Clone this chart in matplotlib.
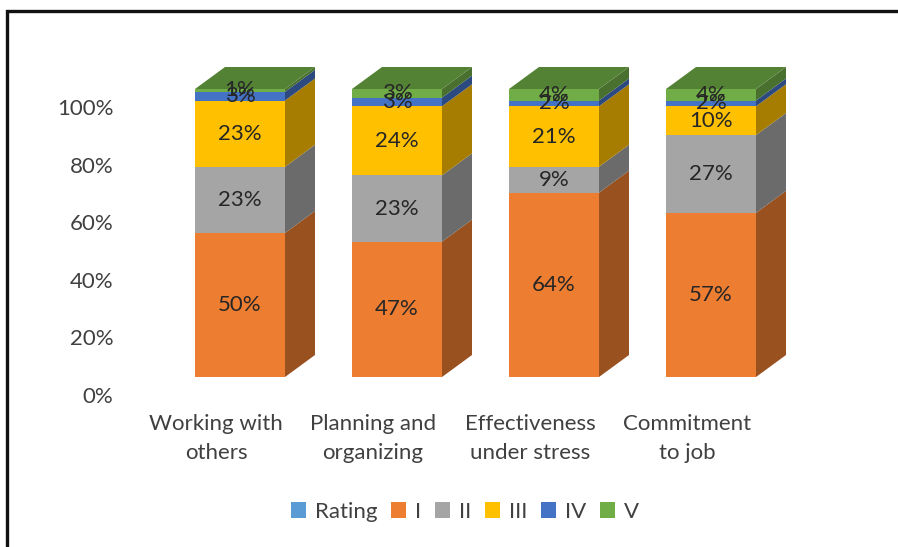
import matplotlib
matplotlib.use("Agg")
import matplotlib.pyplot as plt
from matplotlib.patches import Polygon, Rectangle, Patch
import numpy as np

# ---------------- data ----------------
categories = ["Working with\nothers", "Planning and\norganizing",
              "Effectiveness\nunder stress", "Commitment\nto job"]
series_names = ["Rating", "I", "II", "III", "IV", "V"]
s_I = [50, 47, 64, 57]
s_II = [23, 23, 9, 27]
s_III = [23, 24, 21, 10]
s_IV = [3, 3, 2, 2]
s_V = [1, 3, 4, 4]
yticks = [0, 20, 40, 60, 80, 100]
ytick_labels = ["0%", "20%", "40%", "60%", "80%", "100%"]

colors = {"Rating": "#5B9BD5", "I": "#ED7D31", "II": "#A5A5A5",
          "III": "#FFC000", "IV": "#4472C4", "V": "#70AD47"}

FONT = "Lato"
FS = 16
TXT = "#404040"

# ---------------- figure ----------------
W, H, DPI = 898, 547, 100
fig = plt.figure(figsize=(W / DPI, H / DPI), dpi=DPI)
fig.patch.set_facecolor("white")

# axes placement in pixels
ax_l, ax_r, ax_t, ax_b = 130, 830, 50, 400
ax = fig.add_axes([ax_l / W, (H - ax_b) / H, (ax_r - ax_l) / W, (ax_b - ax_t) / H])
px_per_x = 157.0
x0_pix = 216.0
px_per_y = 2.88
y0_pix = 395.0
ax.set_xlim((ax_l - x0_pix) / px_per_x, (ax_r - x0_pix) / px_per_x)
ax.set_ylim((y0_pix - ax_b) / px_per_y, (y0_pix - ax_t) / px_per_y)
for sp in ax.spines.values():
    sp.set_visible(False)
ax.set_facecolor("none")

# 3D geometry (data units)
shift = 24 / px_per_x
width = 90 / px_per_x
dx = 30 / px_per_x
dy = 22 / px_per_y
base = 18 / px_per_y


def shade(c, f):
    r, g, b = matplotlib.colors.to_rgb(c)
    return (r * f, g * f, b * f)


xs = np.arange(len(categories))
stack = [("I", s_I), ("II", s_II), ("III", s_III), ("IV", s_IV), ("V", s_V)]
cum = np.zeros(len(categories)) + base
for name, vals in stack:
    vals = np.array(vals, dtype=float)
    c = colors[name]
    ax.bar(xs + shift, vals, width=width, bottom=cum, color=c, linewidth=0, zorder=3)
    for i in range(len(xs)):
        xr = xs[i] + shift + width / 2
        yb, yt = cum[i], cum[i] + vals[i]
        ax.add_patch(Polygon([(xr, yb), (xr + dx, yb + dy), (xr + dx, yt + dy), (xr, yt)],
                             closed=True, facecolor=shade(c, 0.65), edgecolor="none", zorder=2))
        ax.text(xs[i] + shift, (yb + yt) / 2, f"{int(vals[i])}%", ha="center", va="center",
                fontsize=FS, family=FONT, color="#262626", zorder=5)
    cum = cum + vals

# top faces
topc = colors["V"]
for i in range(len(xs)):
    xl = xs[i] + shift - width / 2
    xr = xs[i] + shift + width / 2
    yt = cum[i]
    ax.add_patch(Polygon([(xl, yt), (xl + dx, yt + dy), (xr + dx, yt + dy), (xr, yt)],
                         closed=True, facecolor=shade(topc, 0.75), edgecolor="none", zorder=4))

ax.set_yticks(yticks)
ax.set_yticklabels(ytick_labels, fontsize=FS, family=FONT, color=TXT)
ax.set_xticks(xs)
ax.set_xticklabels(categories, fontsize=FS, family=FONT, color=TXT, linespacing=1.6)
ax.tick_params(axis="both", length=0)
ax.tick_params(axis="x", pad=10)
ax.tick_params(axis="y", pad=12)

# legend
handles = [Patch(facecolor=colors[n], edgecolor="none", label=n) for n in series_names]
fig.legend(handles=handles, loc="center", bbox_to_anchor=(465 / W, 1 - 512 / H), ncol=6,
           frameon=False, prop={"family": FONT, "size": FS}, labelcolor=TXT,
           handlelength=0.7, handleheight=0.7, handletextpad=0.4, columnspacing=0.6)

# outer frame
fig.patches.append(Rectangle((7 / W, -0.1), 1.2, 1 - 11 / H + 0.1, transform=fig.transFigure,
                             fill=False, edgecolor="#111111", linewidth=2.4, zorder=10))

fig.savefig("out.png", dpi=DPI)
